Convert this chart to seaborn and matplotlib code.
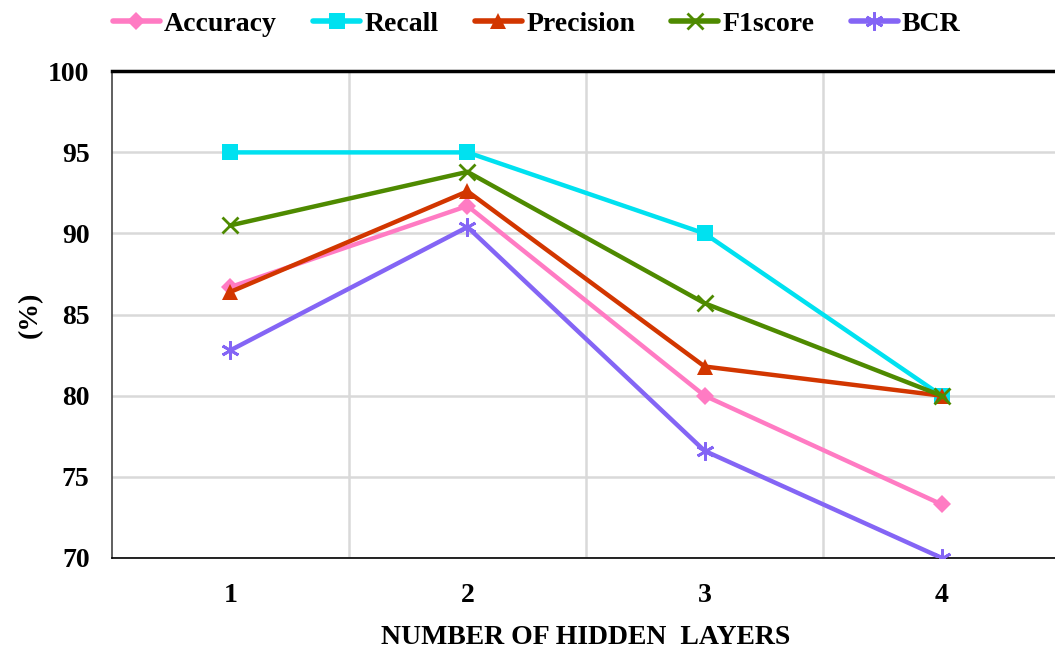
import matplotlib
matplotlib.use("Agg")
import matplotlib.pyplot as plt
import seaborn as sns
import pandas as pd
import numpy as np

layers = [1, 2, 3, 4]
accuracy = [86.7, 91.7, 80.0, 73.3]
recall = [95.0, 95.0, 90.0, 80.0]
precision = [86.4, 92.6, 81.8, 80.0]
f1score = [90.5, 93.8, 85.7, 80.0]
bcr = [82.8, 90.4, 76.6, 70.0]
series_names = ["Accuracy", "Recall", "Precision", "F1score", "BCR"]
y_ticks = [70, 75, 80, 85, 90, 95, 100]
x_label = "NUMBER OF HIDDEN  LAYERS"
y_label = "(%)"

sns.set_style("white")
plt.rcParams['font.family'] = ['Liberation Serif', 'DejaVu Serif']
plt.rcParams['font.weight'] = 'bold'
plt.rcParams['text.color'] = 'black'
plt.rcParams['axes.labelcolor'] = 'black'
plt.rcParams['xtick.color'] = 'black'
plt.rcParams['ytick.color'] = 'black'

df = pd.DataFrame({
    "layers": layers * 5,
    "value": accuracy + recall + precision + f1score + bcr,
    "metric": np.repeat(series_names, len(layers)),
})

colors = {"Accuracy": "#FF7BC3", "Recall": "#00E1F0", "Precision": "#D23600",
          "F1score": "#4E8A00", "BCR": "#8465F5"}
markers = {"Accuracy": "D", "Recall": "s", "Precision": "^", "F1score": "x",
           "BCR": (6, 2, 0)}
msizes = {"Accuracy": 9, "Recall": 12, "Precision": 12, "F1score": 12, "BCR": 13}

fig = plt.figure(figsize=(10.55, 6.48), dpi=100)
ax = fig.add_axes([0.106, 0.139, 0.899, 0.751])

for name in series_names:
    sub = df[df["metric"] == name]
    sns.lineplot(data=sub, x="layers", y="value", ax=ax, color=colors[name],
                 marker=markers[name], markersize=msizes[name], linewidth=3.2,
                 markeredgewidth=2 if name in ("F1score", "BCR") else 0,
                 markeredgecolor=colors[name], label=name, zorder=3)

ax.set_xlim(0.5, 4.5)
ax.set_ylim(70, 100)
ax.set_xticks(layers)
ax.set_xticklabels([str(v) for v in layers])
ax.set_xticks([1.5, 2.5, 3.5], minor=True)
ax.set_yticks(y_ticks)
ax.grid(True, axis="y", which="major", color="#D9D9D9", linewidth=1.8, zorder=0)
ax.grid(True, axis="x", which="minor", color="#D9D9D9", linewidth=1.8, zorder=0)
ax.tick_params(axis="x", which="both", length=0, labelsize=20, pad=18)
ax.tick_params(axis="y", which="both", length=0, labelsize=20, pad=16)
for lbl in ax.get_xticklabels() + ax.get_yticklabels():
    lbl.set_fontweight("bold")

ax.set_xlabel(x_label, fontsize=20, fontweight="bold", labelpad=12)
ax.set_ylabel(y_label, fontsize=20, fontweight="bold", labelpad=4)

for side in ["left", "right", "top", "bottom"]:
    ax.spines[side].set_visible(True)
ax.spines["top"].set_linewidth(2.5)
ax.spines["top"].set_color("black")
ax.spines["bottom"].set_linewidth(1.2)
ax.spines["bottom"].set_color("black")
ax.spines["left"].set_linewidth(1.2)
ax.spines["left"].set_color("#444444")
ax.spines["right"].set_visible(False)

leg = ax.legend(loc="upper center", bbox_to_anchor=(0.448, 1.175), ncol=5,
                frameon=False, handlelength=1.7, handletextpad=0.15,
                columnspacing=1.3, prop={"weight": "bold", "size": 20})
for h in leg.get_lines():
    h.set_linewidth(4)

fig.savefig("out.png", dpi=100)
